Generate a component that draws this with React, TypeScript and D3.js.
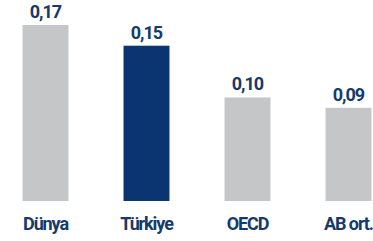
import React, {useRef, useEffect} from 'react'
import * as d3 from 'd3'

const categories = ['Dünya', 'Türkiye', 'OECD', 'AB ort.']
const values = [0.17, 0.15, 0.1, 0.09]
const highlight = 'Türkiye'

const W = 373
const H = 241

function App() {
  const ref: any = useRef<SVGSVGElement>(null)

  useEffect(() => {
    const svg = d3.select(ref.current)
    svg.selectAll('*').remove()

    const x = d3
      .scaleBand()
      .domain(categories)
      .range([-5, 399])
      .paddingInner(0.545)
      .paddingOuter(0.2725)

    const y = d3.scaleLinear().domain([0, 0.17]).range([201, 25])

    const rows = categories.map((c, i) => ({cat: c, value: values[i]}))

    svg
      .selectAll('.bar')
      .data(rows)
      .join('rect')
      .attr('class', 'bar')
      .attr('x', (d: any) => x(d.cat) as number)
      .attr('width', x.bandwidth())
      .attr('y', (d: any) => y(d.value))
      .attr('height', (d: any) => y(0) - y(d.value))
      .attr('fill', (d: any) => (d.cat === highlight ? '#0a3570' : '#c5c6c8'))

    // value labels
    svg
      .selectAll('.val')
      .data(rows)
      .join('text')
      .attr('class', 'val')
      .attr('x', (d: any) => (x(d.cat) as number) + x.bandwidth() / 2)
      .attr('y', (d: any) => y(d.value) - 7)
      .attr('text-anchor', 'middle')
      .attr('font-family', 'Roboto, sans-serif')
      .attr('font-weight', 700)
      .attr('font-size', 18)
      .attr('letter-spacing', -1)
      .attr('fill', '#163a6b')
      .text((d: any) => d3.format('.2f')(d.value).replace('.', ','))

    // category axis labels
    svg
      .selectAll('.cat')
      .data(rows)
      .join('text')
      .attr('class', 'cat')
      .attr('x', (d: any) => (x(d.cat) as number) + x.bandwidth() / 2)
      .attr('y', 229.5)
      .attr('text-anchor', 'middle')
      .attr('font-family', 'Roboto, sans-serif')
      .attr('font-weight', 700)
      .attr('font-size', 18)
      .attr('letter-spacing', -1.1)
      .attr('fill', '#163a6b')
      .text((d: any) => d.cat)
  }, [])

  return (
    <svg
      ref={ref}
      width={W}
      height={H}
      style={{position: 'absolute', left: 0, top: 0, background: '#fff'}}
    />
  )
}

export default App
